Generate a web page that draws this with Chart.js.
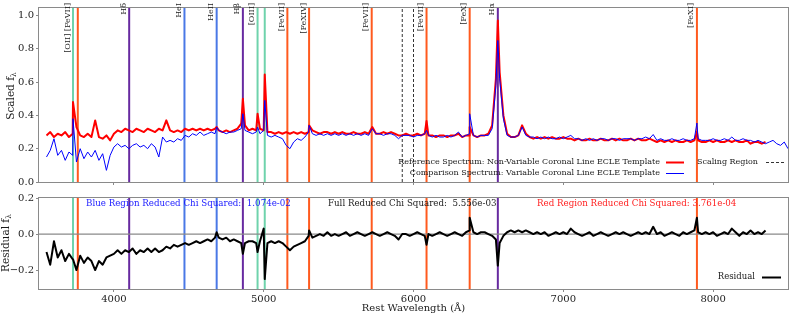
<!DOCTYPE html>
<html>
<head>
<meta charset="utf-8">
<script src="https://cdn.jsdelivr.net/npm/chart.js@4.4.0/dist/chart.umd.min.js"></script>
<style>
  html, body { margin: 0; padding: 0; background: #fff; }
  #wrap { position: relative; width: 789px; height: 316px; }
  #top  { position: absolute; left: 0; top: 0; }
  #bot  { position: absolute; left: 0; top: 190px; }
</style>
</head>
<body>
<div id="wrap">
  <canvas id="top" width="789" height="190" style="width:789px;height:190px"></canvas>
  <canvas id="bot" width="789" height="126" style="width:789px;height:126px"></canvas>
</div>
<script>
"use strict";

// ─── Data ──────────────────────────────────────────────────────────────────
const WAVELENGTH = [
  3550,3575,3600,3625,3650,3675,3700,3725,3750,3775,3800,3825,3850,3875,3900,3925,3950,3975,4000,4025,
  4050,4075,4100,4125,4150,4175,4200,4225,4250,4275,4300,4325,4350,4375,4400,4425,4450,4475,4500,4525,
  4550,4575,4600,4625,4650,4675,4700,4725,4750,4775,4800,4825,4850,4875,4900,4925,4950,4975,5000,5025,
  5050,5075,5100,5125,5150,5175,5200,5225,5250,5275,5300,5325,5350,5375,5400,5425,5450,5475,5500,5525,
  5550,5575,5600,5625,5650,5675,5700,5725,5750,5775,5800,5825,5850,5875,5900,5925,5950,5975,6000,6025,
  6050,6075,6100,6125,6150,6175,6200,6225,6250,6275,6300,6325,6350,6375,6400,6425,6450,6475,6500,6525,
  6550,6575,6600,6625,6650,6675,6700,6725,6750,6775,6800,6825,6850,6875,6900,6925,6950,6975,7000,7025,
  7050,7075,7100,7125,7150,7175,7200,7225,7250,7275,7300,7325,7350,7375,7400,7425,7450,7475,7500,7525,
  7550,7575,7600,7625,7650,7675,7700,7725,7750,7775,7800,7825,7850,7875,7900,7925,7950,7975,8000,8025,
  8050,8075,8100,8125,8150,8175,8200,8225,8250,8275,8300,8325,8350,8375,8400,8425,8450,8475,8500
];

// reference (non-variable) template, 3550–8350 Å
const REFERENCE_FLUX = [
  .28,.30,.27,.29,.28,.30,.27,.29,.33,.28,.27,.29,.27,.37,.27,.26,.28,.25,.29,.31,
  .30,.32,.31,.30,.32,.31,.30,.32,.31,.30,.32,.31,.37,.31,.30,.31,.30,.32,.31,.32,
  .31,.32,.31,.32,.31,.32,.31,.30,.31,.30,.31,.32,.35,.34,.31,.32,.31,.32,.31,.30,
  .30,.29,.30,.29,.30,.29,.30,.29,.30,.29,.30,.31,.30,.29,.30,.30,.29,.30,.29,.30,
  .29,.29,.30,.29,.29,.30,.29,.33,.29,.29,.30,.29,.30,.29,.28,.28,.29,.28,.28,.29,
  .28,.29,.28,.28,.27,.28,.28,.27,.28,.28,.29,.27,.28,.28,.28,.27,.28,.28,.29,.34,
  .62,.66,.40,.29,.27,.27,.28,.34,.29,.27,.26,.27,.26,.27,.26,.27,.26,.26,.27,.26,
  .26,.25,.26,.25,.25,.26,.25,.25,.26,.25,.25,.26,.25,.26,.25,.25,.26,.25,.26,.25,
  .25,.26,.25,.24,.25,.24,.25,.24,.25,.24,.24,.25,.24,.25,.25,.24,.24,.25,.24,.25,
  .24,.24,.25,.24,.25,.24,.24,.25,.23,.24,.24,.23,.24
];

// comparison (variable) template, 3550–8500 Å
const COMPARISON_FLUX = [
  .15,.19,.26,.16,.19,.13,.18,.16,.12,.20,.14,.18,.15,.19,.13,.17,.07,.16,.21,.23,
  .21,.22,.20,.22,.23,.21,.22,.20,.23,.21,.15,.27,.24,.25,.24,.26,.25,.28,.27,.29,
  .28,.30,.28,.29,.30,.29,.31,.30,.29,.30,.30,.31,.32,.31,.30,.29,.30,.29,.31,.28,
  .27,.28,.27,.26,.22,.20,.24,.26,.25,.27,.30,.29,.28,.29,.28,.29,.28,.29,.28,.29,
  .28,.29,.28,.29,.28,.29,.28,.32,.29,.29,.28,.29,.29,.28,.26,.28,.28,.28,.27,.28,
  .28,.29,.28,.27,.28,.27,.27,.28,.27,.28,.30,.27,.28,.29,.28,.27,.28,.28,.28,.32,
  .58,.62,.38,.28,.27,.27,.28,.33,.28,.27,.27,.26,.27,.26,.27,.26,.26,.27,.26,.27,
  .28,.26,.26,.25,.26,.25,.26,.25,.26,.26,.25,.26,.26,.25,.26,.26,.26,.25,.26,.26,
  .27,.26,.285,.25,.26,.25,.25,.26,.25,.25,.26,.25,.25,.26,.26,.25,.25,.25,.26,.25,
  .25,.26,.25,.27,.25,.25,.26,.25,.25,.24,.25,.24,.23,.24,.25,.23,.22,.24,.20
];

// residual, 3550–8350 Å
const RESIDUAL_FLUX = [
  -.10,-.17,-.04,-.13,-.09,-.15,-.11,-.14,-.20,-.12,-.16,-.13,-.15,-.20,-.15,-.17,-.13,-.12,-.11,-.09,
  -.11,-.09,-.10,-.08,-.11,-.09,-.10,-.08,-.10,-.08,-.10,-.09,-.07,-.08,-.06,-.07,-.06,-.05,-.06,-.05,
  -.04,-.05,-.04,-.03,-.04,-.02,-.02,-.03,-.02,-.04,-.03,-.04,-.05,-.05,-.04,-.04,-.05,-.04,.03,-.05,
  -.04,-.05,-.04,-.05,-.07,-.09,-.07,-.06,-.05,-.04,-.01,-.02,-.01,.00,-.01,.01,-.01,.00,-.01,.00,
  .01,-.01,.00,.01,.00,-.01,.00,.01,.00,-.01,.00,.01,.00,-.01,-.03,.00,.00,-.01,.00,.01,
  .00,-.01,.00,-.01,.00,.01,.00,-.01,.00,.01,.00,-.01,.01,.02,.01,.00,.01,.01,.00,-.01,
  -.03,-.05,-.01,.01,.02,.01,.02,.01,.02,.01,.00,.01,.00,.01,-.01,.00,.01,.00,.01,.00,
  .03,.01,.00,-.01,.00,.01,-.01,.00,.01,.00,-.01,.00,.01,.00,.01,.00,-.01,.00,.01,.00,
  .01,.00,.04,.00,.01,-.01,.00,.01,.00,-.01,.01,.00,.01,.02,.01,.00,.01,.00,.01,-.01,
  .00,.01,.00,.03,.01,-.01,.01,.00,.02,.00,.01,.00,.02
];

// narrow emission-line peaks sitting between grid points
const EMISSION_WL      = [3727, 4686, 4861, 4959, 5007, 5303, 6087, 6375, 6563, 7892];
const REFERENCE_PEAKS  = [0.48, 0.33, 0.50, 0.41, 0.645, 0.34, 0.366, 0.33, 0.97, 0.30];
const COMPARISON_PEAKS = [0.38, 0.33, 0.41, 0.33, 0.49, 0.34, 0.31, 0.41, 0.85, 0.354];
const RESIDUAL_PEAKS   = [-0.14, 0.01, -0.11, -0.10, -0.25, 0.02, -0.06, 0.09, -0.175, 0.09];

// marked lines
const LINE_WL    = [3727, 3759, 4102, 4471, 4686, 4861, 4959, 5007, 5158, 5303, 5721, 6087, 6375, 6563, 7892];
const LINE_KIND  = ["O", "Fe", "H", "He", "He", "H", "O", "O", "Fe", "Fe", "Fe", "Fe", "Fe", "H", "Fe"];
const LINE_LABEL = ["[OII] [FeVII]", "", "Hδ", "HeI", "HeII", "Hβ", "[OIII]", "",
                    "[FeVII]", "[FeXIV]", "[FeVII]", "[FeVII]", "[FeX]", "Hα", "[FeXI]"];
const SCALING_WL = [5925, 6000];

const X_TICKS     = [4000, 5000, 6000, 7000, 8000];
const TOP_Y_TICKS = [0, 0.2, 0.4, 0.6, 0.8, 1.0];
const RES_Y_TICKS = [-0.2, 0, 0.2];

const SERIES_LABELS = [
  "Reference Spectrum: Non-Variable Coronal Line ECLE Template",
  "Comparison Spectrum: Variable Coronal Line ECLE Template",
  "Scaling Region",
  "Residual",
];
const CHI_TEXT = [
  "Blue Region Reduced Chi Squared:  1.074e-02",
  "Full Reduced Chi Squared:  5.556e-03",
  "Red Region Reduced Chi Squared: 3.761e-04",
];

// ─── Styles ────────────────────────────────────────────────────────────────
const KIND_COLOUR = { O: "#6fd3ac", Fe: "#ff5a1e", H: "#672aa0", He: "#4a78e6" };
const FONT = "'DejaVu Serif', serif";
const AXIS_GREY = "#8a8a8a";
const TEXT_COL = "#1a1a1a";

Chart.defaults.font.family = FONT;
Chart.defaults.font.size   = 10;
Chart.defaults.color       = TEXT_COL;

const TOP_Y = [0, 1.045];
const RES_Y = [-0.305, 0.2];

// ─── Helpers ───────────────────────────────────────────────────────────────
function mergeSeries(vals, peaks) {
  const pts = vals.map((v, i) => ({ x: WAVELENGTH[i], y: v }));
  const last = WAVELENGTH[vals.length - 1];
  EMISSION_WL.forEach((w, i) => { if (w <= last) pts.push({ x: w, y: peaks[i] }); });
  return pts.sort((a, b) => a.x - b.x);
}

function vlineSets(yr, withScaling) {
  const sets = LINE_WL.map((w, i) => ({
    data: [{ x: w, y: yr[0] }, { x: w, y: yr[1] }],
    borderColor: KIND_COLOUR[LINE_KIND[i]],
    borderWidth: 2,
    order: 5,
  }));
  if (withScaling) {
    SCALING_WL.forEach(w => sets.push({
      data: [{ x: w, y: yr[0] }, { x: w, y: yr[1] }],
      borderColor: "#333",
      borderWidth: 1,
      borderDash: [3, 2],
      order: 4,
    }));
  }
  return sets;
}

function axisOpts(yr, yTicks, fmt, showX, xHeight) {
  return {
    x: {
      type: "linear", min: 3500, max: 8500,
      afterBuildTicks: s => { s.ticks = X_TICKS.map(v => ({ value: v })); },
      afterFit: s => { s.height = xHeight; },
      ticks: { display: showX, padding: 1, font: { size: 10 }, color: TEXT_COL,
               callback: v => String(v), maxRotation: 0, autoSkip: false },
      grid: { drawOnChartArea: false, drawTicks: true, tickLength: 3, tickColor: AXIS_GREY },
      border: { display: false },
    },
    y: {
      min: yr[0], max: yr[1],
      afterBuildTicks: s => { s.ticks = yTicks.map(v => ({ value: v })); },
      afterFit: s => { s.width = 39; },
      ticks: { padding: 2, font: { size: 10 }, color: TEXT_COL, callback: fmt },
      grid: { drawOnChartArea: false, drawTicks: true, tickLength: 3, tickColor: AXIS_GREY },
      border: { display: false },
    },
  };
}

function drawFrame(chart) {
  const { ctx, chartArea: a } = chart;
  ctx.save();
  ctx.strokeStyle = AXIS_GREY;
  ctx.lineWidth = 1;
  ctx.strokeRect(a.left - 0.5, a.top - 0.5, a.right - a.left + 1, a.bottom - a.top + 1);
  ctx.restore();
}

function drawYTitle(ctx, cx, cy, main, sub) {
  ctx.save();
  ctx.translate(cx, cy);
  ctx.rotate(-Math.PI / 2);
  ctx.fillStyle = TEXT_COL;
  ctx.textBaseline = "middle";
  ctx.font = "10.5px " + FONT;
  const w1 = ctx.measureText(main).width;
  ctx.font = "7.5px " + FONT;
  const w2 = ctx.measureText(sub).width;
  const x0 = -(w1 + w2) / 2;
  ctx.font = "10.5px " + FONT;
  ctx.textAlign = "left";
  ctx.fillText(main, x0, 0);
  ctx.font = "7.5px " + FONT;
  ctx.fillText(sub, x0 + w1, 3);
  ctx.restore();
}

function legendRow(ctx, text, textRight, y, handle) {
  ctx.textAlign = "right";
  ctx.textBaseline = "middle";
  ctx.fillStyle = TEXT_COL;
  ctx.fillText(text, textRight, y);
  ctx.save();
  ctx.strokeStyle = handle.colour;
  ctx.lineWidth = handle.width;
  ctx.setLineDash(handle.dash || []);
  ctx.beginPath();
  ctx.moveTo(handle.x0, y + 0.5);
  ctx.lineTo(handle.x1, y + 0.5);
  ctx.stroke();
  ctx.restore();
}

// ─── Top panel: spectra ────────────────────────────────────────────────────
const topPlugin = {
  id: "topDecor",
  afterDraw(chart) {
    const { ctx, scales: { x } } = chart;
    drawFrame(chart);

    // line labels
    ctx.save();
    ctx.font = "8px " + FONT;
    ctx.fillStyle = TEXT_COL;
    ctx.textAlign = "right";
    ctx.textBaseline = "middle";
    LINE_LABEL.forEach((t, i) => {
      if (!t) return;
      const px = x.getPixelForValue(LINE_WL[i]) - 5.5;
      ctx.save();
      ctx.translate(px, 3);
      ctx.rotate(-Math.PI / 2);
      ctx.fillText(t, 0, 0);
      ctx.restore();
    });
    ctx.restore();

    // legend
    ctx.save();
    ctx.font = "8px " + FONT;
    legendRow(ctx, SERIES_LABELS[0], 660, 162, { x0: 666, x1: 684, colour: "#ff0000", width: 2 });
    legendRow(ctx, SERIES_LABELS[1], 660, 173, { x0: 666, x1: 684, colour: "#0000ff", width: 1 });
    legendRow(ctx, SERIES_LABELS[2], 758, 162, { x0: 766, x1: 785, colour: "#333", width: 1, dash: [3, 2] });
    ctx.restore();

    drawYTitle(ctx, 11, 96, "Scaled f", "λ");
  },
};

new Chart(document.getElementById("top"), {
  type: "line",
  data: {
    datasets: [
      { label: SERIES_LABELS[1], data: mergeSeries(COMPARISON_FLUX, COMPARISON_PEAKS),
        borderColor: "#0000ff", borderWidth: 1, order: 0 },
      { label: SERIES_LABELS[0], data: mergeSeries(REFERENCE_FLUX, REFERENCE_PEAKS),
        borderColor: "#ff0000", borderWidth: 2, order: 1 },
      ...vlineSets(TOP_Y, true),
    ],
  },
  options: {
    responsive: false,
    animation: false,
    elements: { point: { radius: 0 }, line: { tension: 0, borderJoinStyle: "round" } },
    layout: { padding: { top: 2, right: 1, left: 0, bottom: 0 } },
    plugins: { legend: { display: false }, tooltip: { enabled: false } },
    scales: axisOpts(TOP_Y, TOP_Y_TICKS, v => v.toFixed(1), false, 5),
  },
  plugins: [topPlugin],
});

// ─── Bottom panel: residual ───────────────────────────────────────────────
const botPlugin = {
  id: "botDecor",
  afterDraw(chart) {
    const { ctx, chartArea: a } = chart;
    drawFrame(chart);

    ctx.save();
    ctx.font = "8.7px " + FONT;
    ctx.textAlign = "left";
    ctx.textBaseline = "middle";
    ctx.fillStyle = "#2020ff"; ctx.fillText(CHI_TEXT[0], 86, 14);
    ctx.fillStyle = TEXT_COL;  ctx.fillText(CHI_TEXT[1], 328, 14);
    ctx.fillStyle = "#ff2020"; ctx.fillText(CHI_TEXT[2], 537, 14);

    ctx.font = "8.5px " + FONT;
    legendRow(ctx, SERIES_LABELS[3], 755, 87, { x0: 762, x1: 781, colour: "#000", width: 2 });

    ctx.font = "10px " + FONT;
    ctx.textAlign = "center";
    ctx.fillStyle = TEXT_COL;
    ctx.fillText("Rest Wavelength (Å)", (a.left + a.right) / 2, 118);
    ctx.restore();

    drawYTitle(ctx, 6, 53, "Residual f", "λ");
  },
};

new Chart(document.getElementById("bot"), {
  type: "line",
  data: {
    datasets: [
      { label: SERIES_LABELS[3], data: mergeSeries(RESIDUAL_FLUX, RESIDUAL_PEAKS),
        borderColor: "#000", borderWidth: 2, order: 0 },
      { data: [{ x: 3500, y: 0 }, { x: 8500, y: 0 }], borderColor: AXIS_GREY, borderWidth: 1.2, order: 3 },
      ...vlineSets(RES_Y, false),
    ],
  },
  options: {
    responsive: false,
    animation: false,
    elements: { point: { radius: 0 }, line: { tension: 0, borderJoinStyle: "round" } },
    layout: { padding: { top: 7, right: 1, left: 0, bottom: 0 } },
    plugins: { legend: { display: false }, tooltip: { enabled: false } },
    scales: axisOpts(RES_Y, RES_Y_TICKS, v => (v < 0 ? "\u2212" : "") + Math.abs(v).toFixed(1), true, 27),
  },
  plugins: [botPlugin],
});
</script>
</body>
</html>
